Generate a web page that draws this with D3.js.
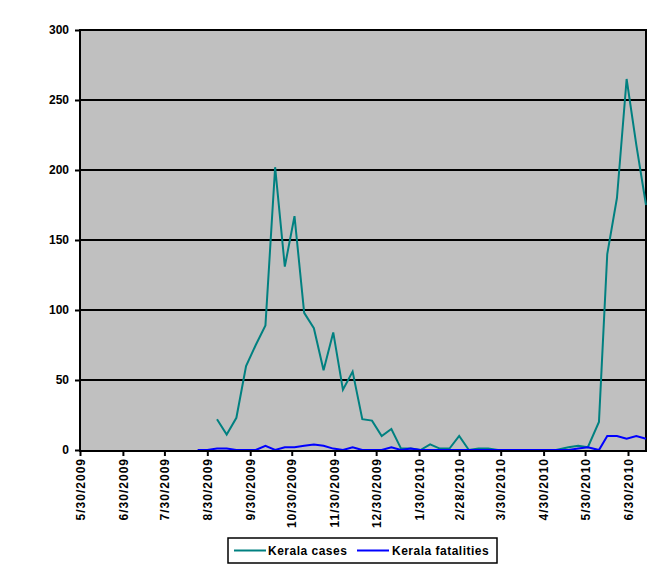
<!DOCTYPE html>
<html>
<head>
<meta charset="utf-8">
<script src="https://cdn.jsdelivr.net/npm/d3@7"></script>
<style>
  html, body { margin: 0; padding: 0; background: #ffffff; }
  svg { display: block; }
  text { font-family: Arial, "Liberation Sans", sans-serif; font-weight: bold; font-size: 12px; fill: #000; }
</style>
</head>
<body>
<svg id="chart" width="665" height="575"></svg>
<script>
// ---- data ----
const dates = [
  "2009-08-23","2009-08-30","2009-09-06","2009-09-13","2009-09-20","2009-09-27",
  "2009-10-04","2009-10-11","2009-10-18","2009-10-25","2009-11-01","2009-11-08",
  "2009-11-15","2009-11-22","2009-11-29","2009-12-06","2009-12-13","2009-12-20",
  "2009-12-27","2010-01-03","2010-01-10","2010-01-17","2010-01-24","2010-01-31",
  "2010-02-07","2010-02-14","2010-02-21","2010-02-28","2010-03-07","2010-03-14",
  "2010-03-21","2010-03-28","2010-04-04","2010-04-11","2010-04-18","2010-04-25",
  "2010-05-02","2010-05-09","2010-05-18","2010-05-25","2010-06-01","2010-06-09",
  "2010-06-15","2010-06-22","2010-06-29","2010-07-06","2010-07-13"
];
const keralaCases = [
  null, null, 22, 11, 23, 60,
  75, 89, 202, 131, 167, 98,
  87, 57, 84, 43, 56, 22,
  21, 10, 15, 1, 1, 0,
  4, 1, 1, 10, 0, 1,
  1, 0, 0, 0, 0, 0,
  0, 0, 2, 3, 2, 20,
  140, 180, 265, 218, 175
];
const keralaFatalities = [
  0, 0, 1, 1, 0, 0,
  0, 3, 0, 2, 2, 3,
  4, 3, 1, 0, 2, 0,
  0, 0, 2, 0, 1, 0,
  0, 0, 0, 0, 0, 0,
  0, 0, 0, 0, 0, 0,
  0, 0, 0, 1, 2, 0,
  10, 10, 8, 10, 8
];
const xTickLabels = [
  "5/30/2009","6/30/2009","7/30/2009","8/30/2009","9/30/2009","10/30/2009",
  "11/30/2009","12/30/2009","1/30/2010","2/28/2010","3/30/2010","4/30/2010",
  "5/30/2010","6/30/2010"
];
const yTicks = [0, 50, 100, 150, 200, 250, 300];
const axisStart = "5/30/2009";
const axisEnd = "7/13/2010";
const seriesNames = ["Kerala cases", "Kerala fatalities"];
const seriesColors = ["#008080", "#0000FF"];

(function () {
  const parseISO = d3.utcParse("%Y-%m-%d");
  const parseMDY = d3.utcParse("%m/%d/%Y");

  const pLeft = 80, pRight = 646, pTop = 30, pBottom = 450;
  const svg = d3.select("#chart");

  const x = d3.scaleUtc()
    .domain([parseMDY(axisStart), parseMDY(axisEnd)])
    .range([pLeft, pRight]);
  const y = d3.scaleLinear().domain([0, 300]).range([pBottom, pTop]);

  // plot area
  svg.append("rect")
    .attr("x", pLeft).attr("y", pTop)
    .attr("width", pRight - pLeft).attr("height", pBottom - pTop)
    .attr("fill", "#C0C0C0");

  // gridlines
  svg.append("g")
    .selectAll("line")
    .data(yTicks.filter(v => v > 0))
    .join("line")
    .attr("x1", pLeft).attr("x2", pRight)
    .attr("y1", d => y(d)).attr("y2", d => y(d))
    .attr("stroke", "#000").attr("stroke-width", 2);

  // right border
  svg.append("line")
    .attr("x1", pRight).attr("x2", pRight)
    .attr("y1", pTop - 1).attr("y2", pBottom + 1)
    .attr("stroke", "#000").attr("stroke-width", 2);

  // series
  const points = dates.map((d, i) => ({
    date: parseISO(d),
    cases: keralaCases[i],
    fat: keralaFatalities[i]
  }));

  const lineCases = d3.line()
    .defined(d => d.cases !== null)
    .x(d => x(d.date)).y(d => y(d.cases));
  const lineFat = d3.line()
    .defined(d => d.fat !== null)
    .x(d => x(d.date)).y(d => y(d.fat));

  svg.append("path")
    .datum(points)
    .attr("d", lineCases)
    .attr("fill", "none")
    .attr("stroke", seriesColors[0])
    .attr("stroke-width", 2);

  svg.append("path")
    .datum(points)
    .attr("d", lineFat)
    .attr("fill", "none")
    .attr("stroke", seriesColors[1])
    .attr("stroke-width", 2);

  // y axis
  const yAxis = d3.axisLeft(y).tickValues(yTicks).tickSize(5).tickPadding(6);
  const gy = svg.append("g").attr("transform", `translate(${pLeft},0)`).call(yAxis);
  gy.select(".domain").attr("stroke", "#000").attr("stroke-width", 2)
    .attr("d", `M0,${pTop - 1}V${pBottom + 1}`);
  gy.selectAll(".tick line").attr("stroke", "#000").attr("stroke-width", 2);
  gy.selectAll(".tick text")
    .attr("font-family", "Arial, 'Liberation Sans', sans-serif")
    .attr("font-weight", "bold").attr("font-size", 12).attr("fill", "#000");

  // x axis
  const xTickDates = xTickLabels.map(parseMDY);
  const xAxis = d3.axisBottom(x)
    .tickValues(xTickDates)
    .tickFormat((d, i) => xTickLabels[i])
    .tickSize(5).tickPadding(0);
  const gx = svg.append("g").attr("transform", `translate(0,${pBottom + 1})`).call(xAxis);
  gx.select(".domain").attr("stroke", "#000").attr("stroke-width", 2)
    .attr("d", `M${pLeft - 1},0H${pRight + 1}`);
  gx.selectAll(".tick line").attr("stroke", "#000").attr("stroke-width", 2);
  gx.selectAll(".tick text")
    .attr("font-family", "Arial, 'Liberation Sans', sans-serif")
    .attr("font-weight", "bold").attr("font-size", 12).attr("fill", "#000")
    .attr("letter-spacing", "1px")
    .attr("text-anchor", "end")
    .attr("transform", "translate(0,7) rotate(-90)")
    .attr("x", 0).attr("y", 0).attr("dy", "0.35em");

  // legend
  const lg = svg.append("g");
  lg.append("rect")
    .attr("x", 228).attr("y", 538).attr("width", 269).attr("height", 25)
    .attr("fill", "#fff").attr("stroke", "#000").attr("stroke-width", 1.5);
  const legendItems = [
    { name: seriesNames[0], color: seriesColors[0], x1: 234, x2: 266, tx: 268 },
    { name: seriesNames[1], color: seriesColors[1], x1: 357, x2: 389, tx: 392 }
  ];
  legendItems.forEach(it => {
    lg.append("line")
      .attr("x1", it.x1).attr("x2", it.x2).attr("y1", 550.5).attr("y2", 550.5)
      .attr("stroke", it.color).attr("stroke-width", 2);
    lg.append("text")
      .attr("x", it.tx).attr("y", 555)
      .attr("letter-spacing", "0.5px")
      .text(it.name);
  });
})();
</script>
</body>
</html>
